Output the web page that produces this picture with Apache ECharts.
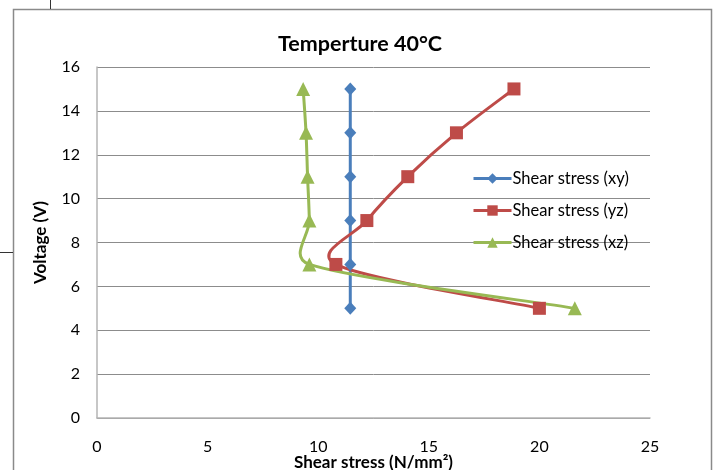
<!DOCTYPE html>
<html>
<head>
<meta charset="utf-8">
<script src="https://cdn.jsdelivr.net/npm/echarts@6/dist/echarts.min.js"></script>
<style>
  html, body { margin: 0; padding: 0; background: #fff; }
  #chart { width: 720px; height: 470px; }
</style>
</head>
<body>
<div id="chart"></div>
<script>
// Voltage levels (V) at which each shear stress was measured
const voltage = [5, 7, 9, 11, 13, 15];
// Shear stress values (N/mm²)
const shearXY = [11.45, 11.45, 11.45, 11.45, 11.45, 11.45];
const shearYZ = [20.0, 10.8, 12.2, 14.05, 16.25, 18.85];
const shearXZ = [21.6, 9.6, 9.6, 9.52, 9.45, 9.32];
const seriesNames = ['Shear stress (xy)', 'Shear stress (yz)', 'Shear stress (xz)'];
const seriesColors = ['#4a7ebb', '#be4b48', '#98b954'];
const xTicks = [0, 5, 10, 15, 20, 25];
const yTicks = [0, 2, 4, 6, 8, 10, 12, 14, 16];

const FONT = 'Lato, "Open Sans", sans-serif';
const LINE_W = 3;

function pairs(xs) {
  return xs.map((x, i) => [x, voltage[i]]);
}

function dist(a, b) {
  return Math.hypot(b[0] - a[0], b[1] - a[1]);
}

// Smoothed connector through the points: cubic Bezier segments whose control
// arms are 1/6 of the neighbour chord, capped at half the segment length.
function smoothCurveSeries(xs, color) {
  const data = pairs(xs);
  return {
    type: 'custom',
    coordinateSystem: 'cartesian2d',
    silent: true,
    data: data,
    encode: { x: 0, y: 1 },
    renderItem: function (params, api) {
      if (params.dataIndex !== 0) return null;
      const p = data.map(d => api.coord(d));
      const n = p.length;
      let path = 'M' + p[0][0] + ' ' + p[0][1];
      for (let i = 0; i < n - 1; i++) {
        const p0 = p[Math.max(i - 1, 0)];
        const p1 = p[i];
        const p2 = p[i + 1];
        const p3 = p[Math.min(i + 2, n - 1)];
        const d12 = dist(p1, p2);
        const d02 = dist(p0, p2);
        const d13 = dist(p1, p3);
        const f0 = (d02 / 6 < d12 / 2 || d02 === 0) ? 1 / 6 : d12 / (2 * d02);
        const f1 = (d13 / 6 < d12 / 2 || d13 === 0) ? 1 / 6 : d12 / (2 * d13);
        const c1x = p1[0] + (p2[0] - p0[0]) * f0;
        const c1y = p1[1] + (p2[1] - p0[1]) * f0;
        const c2x = p2[0] - (p3[0] - p1[0]) * f1;
        const c2y = p2[1] - (p3[1] - p1[1]) * f1;
        path += ' C' + c1x + ' ' + c1y + ' ' + c2x + ' ' + c2y + ' ' + p2[0] + ' ' + p2[1];
      }
      return {
        type: 'path',
        shape: { pathData: path },
        style: { fill: 'none', stroke: color, lineWidth: LINE_W, lineJoin: 'round' }
      };
    }
  };
}

// Markers for each measured point (the connecting curve is drawn separately)
function markerSeries(name, xs, color, symbol, size) {
  return {
    name: name,
    type: 'line',
    data: pairs(xs),
    symbol: symbol,
    symbolSize: size,
    showSymbol: true,
    lineStyle: { width: 0, opacity: 0 },
    itemStyle: { color: color },
    emphasis: { disabled: true }
  };
}

const chart = echarts.init(document.getElementById('chart'), null, { renderer: 'canvas' });

chart.setOption({
  animation: false,
  backgroundColor: '#ffffff',
  title: {
    text: 'Temperture 40°C',
    left: 'center',
    top: 28,
    textStyle: { fontFamily: FONT, fontSize: 21.5, fontWeight: 'bold', color: '#000' }
  },
  graphic: [
    // outer chart frame
    { type: 'rect', shape: { x: 13.5, y: 9.5, width: 698, height: 480 },
      style: { fill: 'none', stroke: '#8a8a8a', lineWidth: 1.5 }, silent: true },
    { type: 'line', shape: { x1: 50.5, y1: 0, x2: 50.5, y2: 9 },
      style: { stroke: '#333', lineWidth: 1 }, silent: true },
    { type: 'line', shape: { x1: 0, y1: 252.5, x2: 13, y2: 252.5 },
      style: { stroke: '#333', lineWidth: 1 }, silent: true }
  ],
  legend: {
    orient: 'vertical',
    left: 467,
    top: 165,
    itemWidth: 38,
    itemHeight: 13,
    itemGap: 15,
    data: seriesNames.map((n, i) => ({
      name: n,
      lineStyle: { color: seriesColors[i], width: LINE_W, opacity: 1 }
    })),
    textStyle: { fontFamily: FONT, fontSize: 16.5, lineHeight: 17, color: '#000', padding: [0, 0, 0, -4] },
    backgroundColor: 'transparent'
  },
  grid: { left: 97, right: 70, top: 67, bottom: 52, containLabel: false, outerBoundsMode: 'none' },
  xAxis: {
    type: 'value',
    min: 0,
    max: 25,
    interval: 5,
    name: 'Shear stress (N/mm²)',
    nameLocation: 'middle',
    nameGap: 36,
    nameMoveOverlap: false,
    nameTextStyle: { fontFamily: FONT, fontSize: 17, fontWeight: 'bold', color: '#000' },
    axisLine: { show: true, lineStyle: { color: '#b4b4b4', width: 1.5 } },
    axisTick: { show: false },
    splitLine: { show: false },
    axisLabel: {
      margin: 21,
      fontFamily: FONT, fontSize: 16, color: '#000',
      formatter: v => (xTicks.indexOf(v) >= 0 ? String(v) : '')
    }
  },
  yAxis: {
    type: 'value',
    min: 0,
    max: 16,
    interval: 2,
    name: 'Voltage (V)',
    nameLocation: 'middle',
    nameGap: 48,
    nameMoveOverlap: false,
    nameTextStyle: { fontFamily: FONT, fontSize: 17, fontWeight: 'bold', color: '#000' },
    axisLine: { show: true, lineStyle: { color: '#b4b4b4', width: 1.5 } },
    axisTick: { show: false },
    splitLine: { show: true, lineStyle: { color: '#8c8c8c', width: 1 } },
    axisLabel: {
      margin: 17,
      fontFamily: FONT, fontSize: 16, color: '#000',
      formatter: v => (yTicks.indexOf(v) >= 0 ? String(v) : '')
    }
  },
  series: [
    smoothCurveSeries(shearXY, seriesColors[0]),
    markerSeries(seriesNames[0], shearXY, seriesColors[0], 'diamond', [12, 13]),
    smoothCurveSeries(shearYZ, seriesColors[1]),
    markerSeries(seriesNames[1], shearYZ, seriesColors[1], 'rect', 13),
    smoothCurveSeries(shearXZ, seriesColors[2]),
    markerSeries(seriesNames[2], shearXZ, seriesColors[2], 'triangle', 14)
  ]
});
</script>
</body>
</html>
